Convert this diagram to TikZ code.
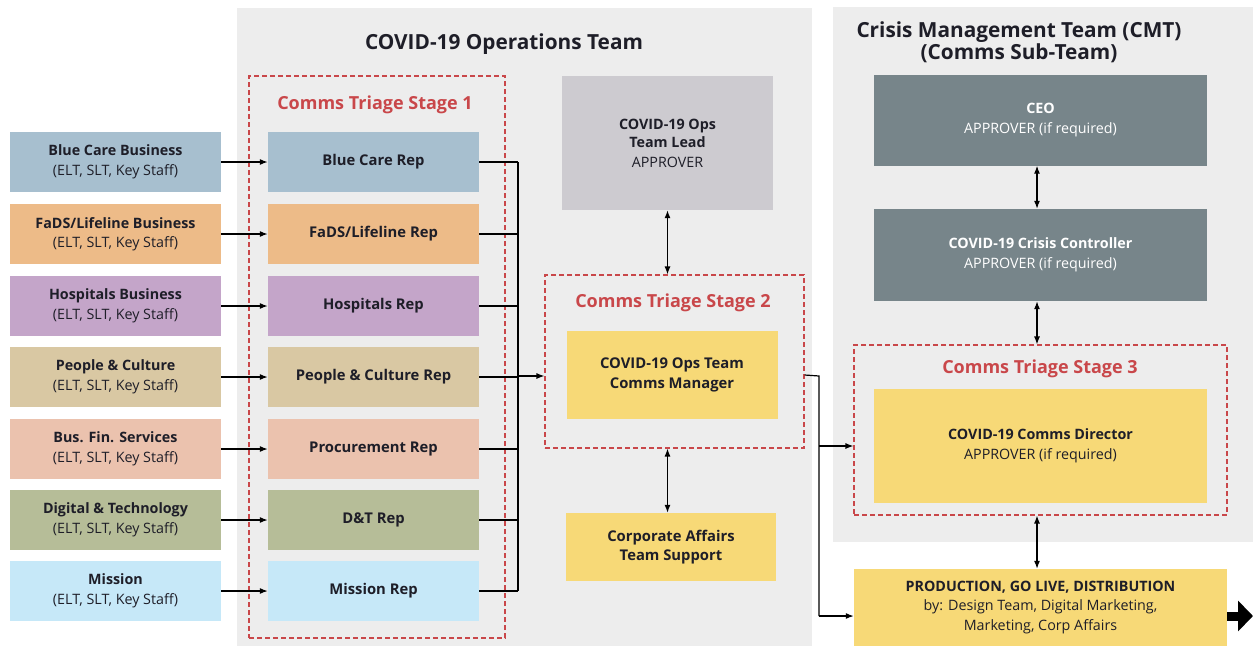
\documentclass[tikz,border=0pt]{standalone}
\usepackage{fontspec}
\setmainfont{Open Sans}
\usetikzlibrary{arrows.meta}
\definecolor{panel}{HTML}{EDEDED}
\definecolor{cBlue}{HTML}{A7BFCF}
\definecolor{cOrange}{HTML}{EDBB88}
\definecolor{cPurple}{HTML}{C4A5C9}
\definecolor{cTan}{HTML}{D9C8A3}
\definecolor{cPeach}{HTML}{EBC2AE}
\definecolor{cOlive}{HTML}{B6BD98}
\definecolor{cSky}{HTML}{C6E8F8}
\definecolor{cYellow}{HTML}{F7D977}
\definecolor{cLead}{HTML}{CDCBD0}
\definecolor{cSlate}{HTML}{77858A}
\definecolor{cRed}{HTML}{C9474A}
\definecolor{ink}{HTML}{1E1E28}
\tikzset{
  box/.style={minimum width=211pt, minimum height=60pt, inner sep=0pt, align=center,
    text=ink, font=\fontsize{14.3}{19.5}\selectfont},
  repbox/.style={box, font=\bfseries\fontsize{14.8}{19.5}\selectfont},
  dashbox/.style={draw=cRed, dash pattern=on 5pt off 3pt, line width=1.1pt, inner sep=0pt},
  stagetitle/.style={text=cRed, font=\bfseries\fontsize{18}{22}\selectfont, inner sep=0pt},
  paneltitle/.style={text=ink, font=\bfseries\fontsize{20.8}{22}\selectfont, inner sep=0pt, align=center},
  arr/.style={draw=black, line width=1.2pt, -{Latex[length=8pt,width=6pt]}},
  dbl/.style={draw=black, line width=1.2pt, {Latex[length=8pt,width=6pt]}-{Latex[length=8pt,width=6pt]}},
  bus/.style={draw=black, line width=1.2pt},
}
\begin{document}
\begin{tikzpicture}[x=1pt,y=-1pt]
\useasboundingbox (0,0) rectangle (1253,646);
% background panels
\fill[panel] (237,8) rectangle (812,646);
\fill[panel] (833,7) rectangle (1253,542);
\node[paneltitle] (optitle) at (504,44) {COVID-19 Operations Team};
\node[paneltitle] (cmttitle) at (1019,42) {Crisis Management Team (CMT)\\(Comms Sub-Team)};

% stage 1 frame
\node[dashbox, minimum width=256pt, minimum height=562pt] (s1) at (377,357) {};
\node[stagetitle] (s1t) at (375,105) {Comms Triage Stage 1};

% business units
\node[box, fill=cBlue]   (b1) at (115.5,162) {\textbf{Blue Care Business}\\(ELT, SLT, Key Staff)};
\node[box, fill=cOrange] (b2) at (115.5,234) {\textbf{FaDS/Lifeline Business}\\(ELT, SLT, Key Staff)};
\node[box, fill=cPurple] (b3) at (115.5,306) {\textbf{Hospitals Business}\\(ELT, SLT, Key Staff)};
\node[box, fill=cTan]    (b4) at (115.5,377) {\textbf{People \& Culture}\\(ELT, SLT, Key Staff)};
\node[box, fill=cPeach]  (b5) at (115.5,449) {\textbf{Bus. Fin. Services}\\(ELT, SLT, Key Staff)};
\node[box, fill=cOlive]  (b6) at (115.5,520) {\textbf{Digital \& Technology}\\(ELT, SLT, Key Staff)};
\node[box, fill=cSky]    (b7) at (115.5,591) {\textbf{Mission}\\(ELT, SLT, Key Staff)};

% stage 1 representatives
\node[repbox, fill=cBlue]   (r1) at (373.5,162) {Blue Care Rep};
\node[repbox, fill=cOrange] (r2) at (373.5,234) {FaDS/Lifeline Rep};
\node[repbox, fill=cPurple] (r3) at (373.5,306) {Hospitals Rep};
\node[repbox, fill=cTan]    (r4) at (373.5,377) {People \& Culture Rep};
\node[repbox, fill=cPeach]  (r5) at (373.5,449) {Procurement Rep};
\node[repbox, fill=cOlive]  (r6) at (373.5,520) {D\&T Rep};
\node[repbox, fill=cSky]    (r7) at (373.5,591) {Mission Rep};

% ops team lead
\node[box, fill=cLead, minimum width=211pt, minimum height=134pt] (lead) at (667.5,143)
  {\textbf{COVID-19 Ops}\\[-1pt]\textbf{Team Lead}\\APPROVER};

% stage 2
\node[dashbox, minimum width=259pt, minimum height=173pt] (s2) at (674.5,361.5) {};
\node[stagetitle] (s2t) at (673,303) {Comms Triage Stage 2};
\node[repbox, fill=cYellow, minimum width=211pt, minimum height=88pt] (cm) at (672,375)
  {COVID-19 Ops Team\\Comms Manager};

% corporate affairs
\node[repbox, fill=cYellow, minimum width=210pt, minimum height=68pt] (ca) at (671,547)
  {Corporate Affairs\\Team Support};

% crisis management team
\node[box, fill=cSlate, text=white, minimum width=333pt, minimum height=91pt] (ceo) at (1040.5,120)
  {\textbf{CEO}\\[1pt]APPROVER (if required)};
\node[box, fill=cSlate, text=white, minimum width=333pt, minimum height=92pt] (ctl) at (1040.5,255)
  {\textbf{COVID-19 Crisis Controller}\\[1pt]APPROVER (if required)};

% stage 3
\node[dashbox, minimum width=373pt, minimum height=170pt] (s3) at (1040.5,430) {};
\node[stagetitle] (s3t) at (1040,369) {Comms Triage Stage 3};
\node[box, fill=cYellow, minimum width=333pt, minimum height=114pt] (dir) at (1040.5,446)
  {\textbf{COVID-19 Comms Director}\\[1pt]APPROVER (if required)};

% production
\node[box, fill=cYellow, minimum width=373pt, minimum height=77pt] (prod) at (1040.5,607.5)
  {\textbf{PRODUCTION, GO LIVE, DISTRIBUTION}\\by: Design Team, Digital Marketing,\\Marketing, Corp Affairs};

% business unit -> representative
\foreach \i in {1,...,7} {
  \draw[arr] (b\i.east) -- (r\i.west);
}
% representatives -> collecting bus -> stage 2
\coordinate (bustop) at (518,162);
\coordinate (busbot) at (518,591);
\coordinate (busmid) at (518,376);
\draw[bus] (bustop) -- (busbot);
\foreach \i in {1,...,7} {
  \draw[bus] (r\i.east) -- (r\i.east -| bustop);
}
\draw[arr] (busmid) -- (busmid -| s2.west);

% two-way links
\draw[dbl] (lead.south) -- (lead.south |- s2.north);
\draw[dbl] (s2.south -| lead.south) -- (ca.north -| lead.south);
\draw[dbl] (ceo.south -| 1037,0) -- (ctl.north -| 1037,0);
\draw[dbl] (ctl.south -| 1037,0) -- (s3.north -| 1037,0);
\draw[dbl] (s3.south -| 1037,0) -- (prod.north -| 1037,0);

% stage 2 -> stage 3 and production
\coordinate (jx) at (819,376);
\coordinate (jp) at (819,616);
\draw[bus] (cm.east -| s2.east) -- (jx) -- (jp);
\draw[arr] (jp) -- (jp -| prod.west);
\draw[arr] (dir.west -| jx) -- (dir.west -| s3.west);

% outgoing arrow
\coordinate (out) at (1253,616);
\draw[line width=9pt, -{Triangle[length=15pt,width=30pt]}] (prod.east |- out) -- (out);
\end{tikzpicture}
\end{document}
